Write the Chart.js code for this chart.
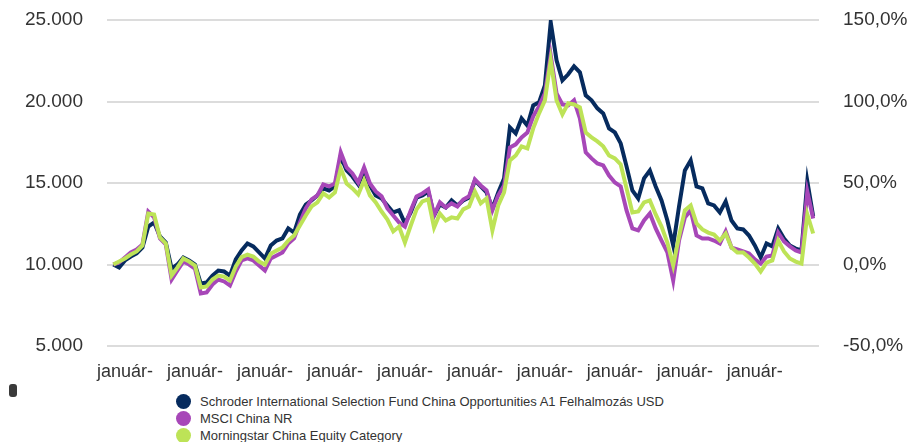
<!DOCTYPE html>
<html>
<head>
<meta charset="utf-8">
<script src="https://cdn.jsdelivr.net/npm/chart.js@4.4.1/dist/chart.umd.min.js"></script>
<style>
  body { margin: 0; background: #fff; font-family: 'Liberation Sans', Arial, sans-serif; }
  #wrap { position: relative; width: 909px; height: 442px; overflow: hidden; }
  #chart { position: absolute; left: 0; top: 0; }
  #legend { position: absolute; left: 176px; top: 393px; font-size: 13px; color: #333; }
  #legend div { height: 17px; line-height: 17px; white-space: nowrap; }
  #legend span { display: inline-block; width: 15px; height: 15px; border-radius: 50%; vertical-align: -3px; margin-right: 9px; }
  #mark { position: absolute; left: 9px; top: 384px; width: 8px; height: 13px; border-radius: 3px; background: #3a3a3a; }
</style>
</head>
<body>
<div id="wrap">
  <canvas id="chart" width="909" height="392"></canvas>
  <div id="mark"></div>
  <div id="legend"></div>
</div>
<script>
// monthly points, first one is 2014-11, last one 2024-11
const tickYears = [2015, 2016, 2017, 2018, 2019, 2020, 2021, 2022, 2023, 2024];
const tickLabel = 'január-';
const seriesNames = [
    'Schroder International Selection Fund China Opportunities A1 Felhalmozás USD',
    'MSCI China NR',
    'Morningstar China Equity Category'
];
const seriesColors = ['#062b5e', '#a747b8', '#bde357'];

const schroder = [10000, 9820, 10250, 10490, 10680, 11040, 12330, 12580, 11720, 11350,
    9750, 10000, 10430, 10250, 10000, 8830, 8890, 9320, 9630, 9570,
    9320, 10310, 10860, 11290, 11110, 10740, 10370, 11170, 11470, 11600,
    12210, 11960, 13070, 13680, 13930, 14240, 14670, 14540, 14790, 16630,
    15770, 15400, 14910, 15770, 14850, 14240, 14050, 13620, 13190, 13320,
    12520, 13190, 14110, 14240, 14480, 13010, 13680, 13500, 13930, 13620,
    13930, 14110, 15160, 14790, 14420, 13440, 14420, 15280, 18410, 18040,
    18960, 18530, 19760, 19950, 20990, 24860, 22530, 21300, 21670, 22160,
    21790, 20380, 20070, 19580, 19270, 18350, 18100, 17430, 16020, 14540,
    14050, 15280, 15770, 14790, 13930, 12700, 11170, 13560, 15770, 16390,
    14790, 14670, 13750, 13620, 13190, 13870, 12700, 12210, 12150, 11780,
    11170, 10430, 11290, 11110, 12210, 11600, 11170, 10980, 10860, 15100,
    12950];
const msci = [10000, 10120, 10430, 10740, 10920, 11230, 13250, 12890, 11600, 11230,
    9080, 9630, 10180, 10000, 9750, 8220, 8280, 8770, 9080, 8960,
    8710, 9570, 10250, 10370, 10250, 9940, 9630, 10370, 10550, 10740,
    11290, 11600, 12580, 13440, 13990, 14240, 14910, 14790, 14970, 16880,
    15960, 15590, 15030, 15960, 14970, 14480, 14180, 13440, 13010, 12580,
    12330, 13320, 14180, 14360, 14610, 13010, 13810, 13500, 13750, 13560,
    13990, 14180, 15220, 14850, 14540, 13320, 14240, 14850, 17180, 17370,
    17800, 18100, 19090, 19700, 20500, 22840, 20500, 19820, 19760, 20070,
    18960, 16880, 16510, 16200, 16080, 15460, 15030, 14790, 13320, 12210,
    12090, 12700, 13130, 12210, 11470, 10740, 9020, 11470, 12890, 13320,
    11780, 11600, 11600, 11470, 11290, 12030, 11040, 10920, 10800, 10680,
    10310, 10060, 10490, 10550, 11960, 11410, 11110, 10860, 10740, 14480,
    12820];
const category = [10000, 10180, 10370, 10610, 10800, 11170, 13130, 13070, 11660, 11290,
    9320, 9820, 10370, 10180, 9940, 8590, 8650, 9080, 9320, 9260,
    9020, 9880, 10450, 10610, 10490, 10180, 10000, 10660, 10860, 11040,
    11470, 11780, 12390, 13010, 13560, 13810, 14360, 14110, 14420, 15900,
    14970, 14670, 14300, 15160, 14240, 13810, 13250, 12760, 12030, 12330,
    11350, 12390, 13380, 13870, 13990, 12270, 13130, 12700, 12890, 12820,
    13380, 13560, 14480, 13750, 14050, 12090, 13620, 14420, 16390, 16690,
    17250, 17120, 18350, 19270, 20070, 22530, 20070, 19210, 19890, 19820,
    19640, 18100, 17800, 17550, 17250, 16690, 16510, 16140, 14670, 13190,
    13250, 13810, 13930, 13070, 12330, 11350, 9940, 11720, 13320, 13620,
    12520, 12150, 11960, 11840, 11470, 11900, 11040, 10740, 10740, 10430,
    10060, 9570, 10120, 10250, 11470, 10800, 10370, 10180, 10060, 13070,
    11900];

const janIdx = tickYears.map(y => (y - 2014) * 12 - 10);
const toPoints = arr => arr.map((v, i) => ({ x: i, y: v }));
const tickFont = { family: "'Liberation Sans', Arial, sans-serif", size: 19 };

// legend under the chart, one row per series
const legendEl = document.getElementById('legend');
seriesNames.forEach((name, i) => {
    const row = document.createElement('div');
    row.innerHTML = `<span style="background:${ seriesColors[i] }"></span>${ name }`;
    legendEl.appendChild(row);
});

// green on top, navy at the bottom (first dataset is drawn last)
const datasets = [category, msci, schroder].map((arr, k) => {
    const i = 2 - k;
    return {
        label: seriesNames[i],
        data: toPoints(arr),
        borderColor: seriesColors[i],
        borderWidth: 4,
        pointRadius: 0,
        tension: 0,
        yAxisID: 'y'
    };
});

// y axes: fixed width, and no extra room above/below for the labels
const fitY = w => s => { s.width = w; s.paddingTop = 0; s.paddingBottom = 0; };

new Chart(document.getElementById('chart'), {
    type: 'line',
    data: { datasets: datasets },
    options: {
        responsive: false,
        animation: false,
        layout: { padding: { top: 20, left: 0, right: 0, bottom: 0 } },
        plugins: { legend: { display: false }, tooltip: { enabled: false } },
        scales: {
            x: {
                type: 'linear',
                min: -1.08,
                max: 121,
                grid: { display: false },
                border: { display: false },
                afterBuildTicks: s => { s.ticks = janIdx.map(v => ({ value: v })); },
                afterFit: s => { s.height = 46; },
                ticks: {
                    autoSkip: false,
                    maxRotation: 0,
                    padding: 7,
                    color: '#333',
                    font: { family: tickFont.family, size: 18 },
                    callback: () => tickLabel
                }
            },
            y: {
                position: 'left',
                min: 5000,
                max: 25000,
                border: { display: false },
                grid: { color: '#dcdcdc', lineWidth: 2, drawTicks: false },
                afterFit: fitY(107),
                ticks: {
                    stepSize: 5000,
                    padding: 24,
                    color: '#333',
                    font: tickFont,
                    callback: v => v.toLocaleString('de-DE')
                }
            },
            y2: {
                position: 'right',
                min: -50,
                max: 150,
                border: { display: false },
                grid: { display: false, drawTicks: false },
                afterFit: fitY(90),
                ticks: {
                    stepSize: 50,
                    padding: 24,
                    color: '#333',
                    font: tickFont,
                    callback: v => v.toFixed(1).replace('.', ',') + '%'
                }
            }
        }
    }
});
</script>
</body>
</html>
